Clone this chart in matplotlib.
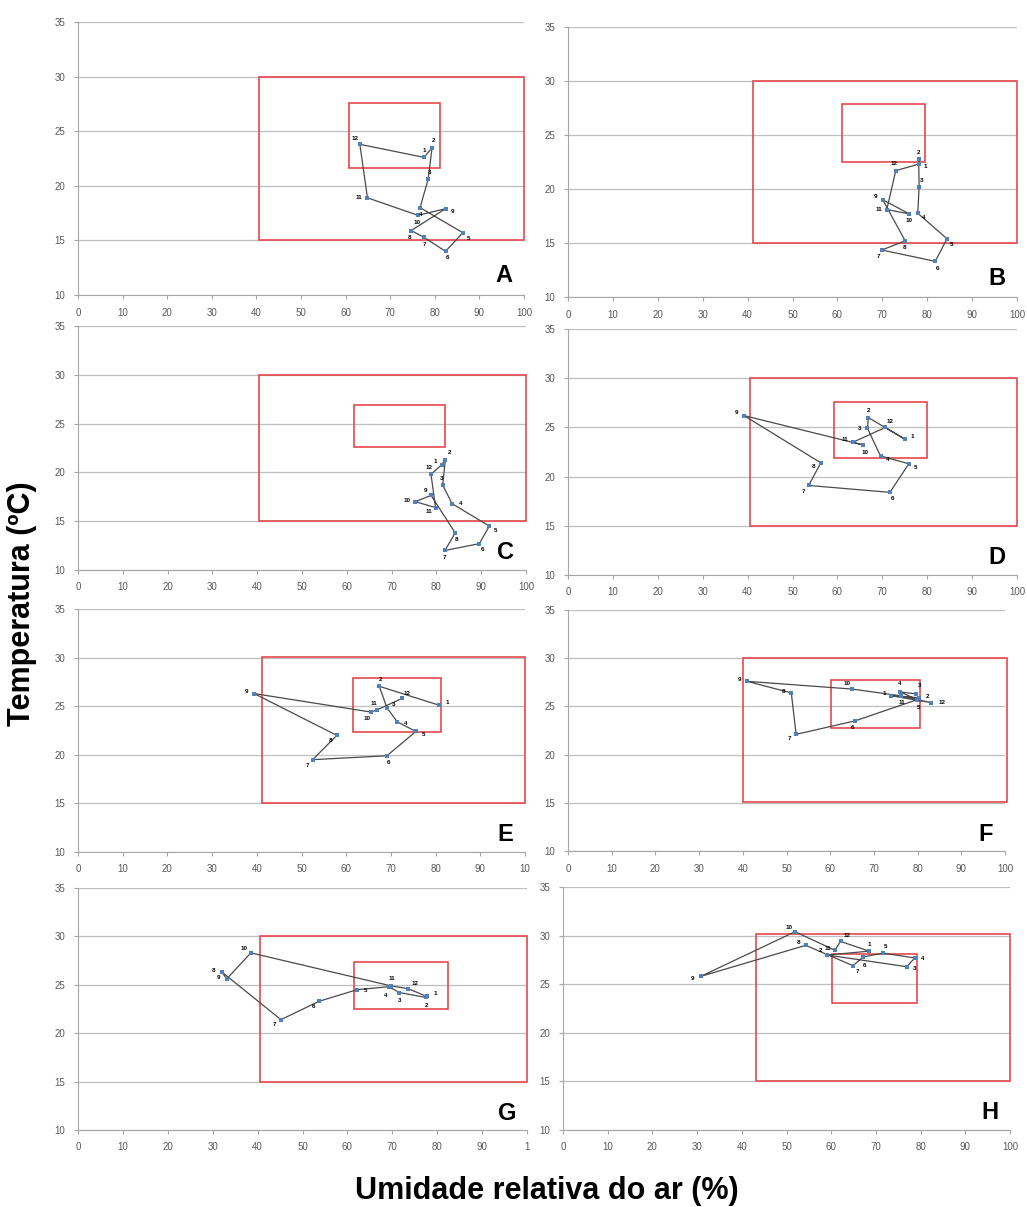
import numpy as np
import matplotlib
matplotlib.use('Agg')
import matplotlib.pyplot as plt
from matplotlib.patches import Rectangle

plt.rc('font', family=['Liberation Sans', 'DejaVu Sans'])

months = ['1', '2', '3', '4', '5', '6', '7', '8', '9', '10', '11', '12']
panels = ['A', 'B', 'C', 'D', 'E', 'F', 'G', 'H']

# relative humidity (%) per month, one list per panel
hum_A = [77.6, 79.4, 78.5, 76.7, 86.3, 82.4, 77.5, 74.7, 82.4, 76.2, 64.9, 63.2]
hum_B = [78.1, 78.1, 78.2, 77.9, 84.4, 81.8, 69.9, 75.1, 70.1, 76.0, 71.0, 73.0]
hum_C = [81.2, 82.0, 81.4, 83.5, 91.8, 89.6, 81.9, 84.2, 78.8, 75.3, 79.8, 78.8]
hum_D = [75.0, 66.9, 66.7, 69.6, 75.9, 71.7, 53.6, 56.3, 39.2, 65.8, 63.5, 70.7]
hum_E = [80.8, 67.4, 69.1, 71.4, 75.6, 69.1, 52.5, 57.9, 39.4, 65.5, 66.8, 72.5]
hum_F = [74.0, 80.3, 79.6, 76.0, 79.9, 65.7, 52.2, 51.1, 41.0, 65.0, 76.1, 83.0]
hum_G = [77.7, 77.4, 71.6, 69.2, 62.2, 53.7, 45.2, 32.1, 33.1, 38.5, 69.6, 73.5]
hum_H = [68.5, 59.1, 76.9, 78.7, 71.6, 67.1, 64.9, 54.3, 30.8, 51.9, 60.8, 62.1]

# air temperature (degC) per month
temp_A = [22.6, 23.5, 20.6, 18.0, 15.7, 14.0, 15.3, 15.9, 17.9, 17.3, 18.9, 23.8]
temp_B = [22.3, 22.75, 20.2, 17.75, 15.4, 13.3, 14.35, 15.2, 19.0, 17.7, 18.1, 21.7]
temp_C = [20.8, 21.3, 18.7, 16.8, 14.5, 12.7, 12.0, 13.8, 17.65, 17.0, 16.4, 19.8]
temp_D = [23.8, 26.0, 24.9, 22.1, 21.3, 18.4, 19.1, 21.4, 26.2, 23.2, 23.5, 25.0]
temp_E = [25.1, 27.05, 24.85, 23.4, 22.4, 19.9, 19.5, 22.0, 26.3, 24.4, 24.6, 25.8]
temp_F = [26.1, 25.9, 26.3, 26.5, 25.7, 23.5, 22.1, 26.4, 27.6, 26.8, 26.1, 25.4]
temp_G = [23.8, 23.7, 24.2, 24.8, 24.5, 23.3, 21.4, 26.3, 25.6, 28.3, 24.9, 24.6]
temp_H = [28.4, 28.0, 26.8, 27.7, 28.2, 27.8, 26.9, 29.0, 25.8, 30.4, 28.5, 29.4]

closed = [True, True, True, True, False, True, True, True]

# comfort zones (hum_min, hum_max, temp_min, temp_max)
outer_zone = [(40.5, 100, 15, 30), (41.2, 100, 15, 30), (40.5, 100, 15, 30),
              (40.5, 100, 15, 30), (41.1, 100, 15, 30.1), (40.0, 100.5, 15.1, 30),
              (40.5, 100, 15, 30), (43.2, 100, 15, 30.2)]
inner_zone = [(60.8, 81.2, 21.6, 27.55), (61.0, 79.5, 22.5, 27.9), (61.5, 81.9, 22.6, 26.9),
              (59.3, 80.0, 21.9, 27.6), (61.6, 81.1, 22.3, 27.9), (60.1, 80.5, 22.8, 27.7),
              (61.5, 82.5, 22.5, 27.4), (60.1, 79.3, 23.1, 28.1)]

hums = [hum_A, hum_B, hum_C, hum_D, hum_E, hum_F, hum_G, hum_H]
temps = [temp_A, temp_B, temp_C, temp_D, temp_E, temp_F, temp_G, temp_H]

x_ticks = [0, 10, 20, 30, 40, 50, 60, 70, 80, 90, 100]
y_ticks = [10, 15, 20, 25, 30, 35]
last_xlabel = ['100', '100', '100', '100', '10', '100', '1', '100']

# axes boxes in pixels: left, right, top, bottom
W, H = 1027, 1207
boxes = [(78, 524, 22, 295), (568, 1017, 27, 297),
         (78, 526, 326, 570), (568, 1017, 329, 575),
         (78, 525, 609, 852), (568, 1005, 610, 851),
         (78, 527, 888, 1130), (563, 1010, 887, 1130)]

# hand placed month labels where points crowd together (offset in points)
label_nudge = {
    ('F', '1'): (-5, 2), ('F', '4'): (0, 6), ('F', '3'): (3, 6), ('F', '2'): (6, 1),
    ('F', '5'): (1, -6), ('F', '11'): (1, -5), ('F', '12'): (8, 0),
    ('G', '4'): (-2, -6), ('G', '11'): (1, 5), ('G', '3'): (0, -6),
    ('G', '12'): (5, 4), ('G', '1'): (6, 2), ('G', '2'): (1, -6),
    ('H', '11'): (-5, 1), ('H', '12'): (5, 4), ('H', '2'): (-5, 3),
    ('H', '1'): (0, 5), ('H', '5'): (2, 5), ('H', '6'): (1, -6),
    ('B', '1'): (5, -2), ('B', '2'): (0, 5),
    ('C', '1'): (-5, 2), ('C', '2'): (3, 5),
    ('D', '3'): (-6, 0), ('D', '2'): (0, 5), ('D', '11'): (-6, 2), ('D', '10'): (1, -5),
    ('E', '10'): (-3, -5), ('E', '11'): (-2, 5), ('E', '3'): (5, 2),
}

RED = '#E8484D'
GREY = '#A6A6A6'

fig = plt.figure(figsize=(W/100, H/100), dpi=100)

for i, name in enumerate(panels):
    l, r, t, b = boxes[i]
    ax = fig.add_axes([l/W, 1 - b/H, (r - l)/W, (b - t)/H])
    x = np.array(hums[i])
    y = np.array(temps[i])

    for (x0, x1, y0, y1) in [outer_zone[i], inner_zone[i]]:
        ax.add_patch(Rectangle((x0, y0), x1 - x0, y1 - y0, fill=False,
                               ec=RED, lw=1.2, clip_on=False, zorder=2))

    xs, ys = (np.append(x, x[0]), np.append(y, y[0])) if closed[i] else (x, y)
    ax.plot(xs, ys, '-', color='#4a4a4a', lw=0.9, zorder=3)
    ax.plot(x, y, 's', color='#4F81BD', ms=2.2, mew=0, zorder=4)

    # month labels pushed away from the centroid unless nudged by hand
    cx, cy = x.mean(), y.mean()
    for m, xi, yi in zip(months, x, y):
        if (name, m) in label_nudge:
            off = label_nudge[(name, m)]
        else:
            dx, dy = (xi - cx) / 100, (yi - cy) / 25
            n = np.hypot(dx, dy) + 1e-9
            off = (6*dx/n, 5*dy/n)
        ax.annotate(m, (xi, yi), xytext=off, textcoords='offset points',
                    ha='center', va='center', fontsize=4.5, fontweight='bold', zorder=5)

    ax.set_xlim(0, 100)
    ax.set_ylim(10, 35)
    ax.set_xticks(x_ticks)
    ax.set_xticklabels([str(v) for v in x_ticks[:-1]] + [last_xlabel[i]])
    ax.set_yticks(y_ticks)
    ax.grid(axis='y', color='#BFBFBF', lw=0.9)
    ax.set_axisbelow(True)
    for s in ['top', 'right']:
        ax.spines[s].set_visible(False)
    for s in ['left', 'bottom']:
        ax.spines[s].set_color(GREY)
    ax.tick_params(labelsize=7, colors='#595959', length=3, color=GREY, pad=6)
    ax.text(0.955, 0.07, name, transform=ax.transAxes, fontsize=17,
            fontweight='bold', ha='center', va='center')

fig.text(0.021, 0.5, 'Temperatura (ºC)', rotation=90, ha='center', va='center',
         fontsize=22, fontweight='bold')
fig.text(0.532, 0.013, 'Umidade relativa do ar (%)', ha='center', va='center',
         fontsize=22, fontweight='bold')

plt.savefig('out.png', dpi=100)
plt.close(fig)
